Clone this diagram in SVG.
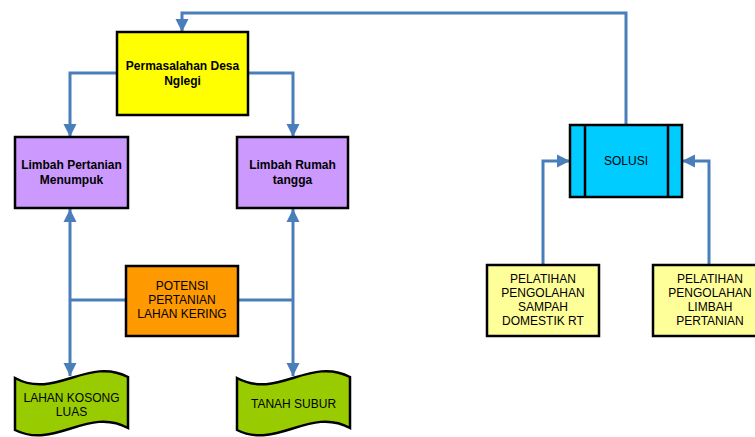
<svg xmlns="http://www.w3.org/2000/svg" width="755" height="437" viewBox="0 0 755 437">
<style>
.box{stroke:#000;stroke-width:2.5}
.c{fill:none;stroke:#4A7EBB;stroke-width:3}
text{font-family:"Liberation Sans",Arial,sans-serif;font-size:12px;fill:#000;text-anchor:middle}
.b{font-weight:bold}
</style>
<defs>
<marker id="ah" viewBox="0 0 10 10" refX="10" refY="5" markerWidth="4.4" markerHeight="4.4" orient="auto-start-reverse">
<path d="M0,0 L10,5 L0,10 Z" fill="#4A7EBB"/>
</marker>
</defs>
<rect width="755" height="437" fill="#fff"/>
<g id="connectors">
<path class="c" d="M626,125 V13 H182 V32" marker-end="url(#ah)"/>
<path class="c" d="M117,73 H70 V137" marker-end="url(#ah)"/>
<path class="c" d="M248,73 H293 V137" marker-end="url(#ah)"/>
<path class="c" d="M70,209 V376" marker-start="url(#ah)" marker-end="url(#ah)"/>
<path class="c" d="M293,209 V376" marker-start="url(#ah)" marker-end="url(#ah)"/>
<path class="c" d="M126,300 H70"/>
<path class="c" d="M238,300 H293"/>
<path class="c" d="M543,265 V161 H570" marker-end="url(#ah)"/>
<path class="c" d="M709,265 V161 H682" marker-end="url(#ah)"/>
</g>
<g id="permasalahan">
<rect class="box" x="117" y="32" width="131" height="83" fill="#FFFF00"/>
<text class="b" x="182.5" y="70">Permasalahan Desa</text>
<text class="b" x="182.5" y="85">Nglegi</text>
</g>
<g id="limbah-pertanian">
<rect class="box" x="15" y="137" width="113" height="71" fill="#CC99FF"/>
<text class="b" x="71.5" y="169">Limbah Pertanian</text>
<text class="b" x="71.5" y="184">Menumpuk</text>
</g>
<g id="limbah-rumah">
<rect class="box" x="237" y="137" width="111" height="71" fill="#CC99FF"/>
<text class="b" x="292.5" y="169">Limbah Rumah</text>
<text class="b" x="292.5" y="184">tangga</text>
</g>
<g id="potensi">
<rect class="box" x="126" y="266" width="112" height="70" fill="#FF9900"/>
<text x="182" y="290">POTENSI</text>
<text x="182" y="304">PERTANIAN</text>
<text x="182" y="318">LAHAN KERING</text>
</g>
<g id="lahan-kosong">
<path class="box" fill="#99CC00" d="M15,378 C55,400 88,356 128,377 L128,428 C88,406 55,450 15,430 Z"/>
<text x="71.5" y="402">LAHAN KOSONG</text>
<text x="71.5" y="416">LUAS</text>
</g>
<g id="tanah-subur">
<path class="box" fill="#99CC00" d="M237,378 C277,400 310,356 350,377 L350,428 C310,406 277,450 237,430 Z"/>
<text x="293.5" y="408">TANAH SUBUR</text>
</g>
<g id="solusi">
<rect class="box" x="570" y="125" width="112" height="72" fill="#00CCFF"/>
<line x1="585" y1="125" x2="585" y2="197" stroke="#000" stroke-width="2.5"/>
<line x1="668" y1="125" x2="668" y2="197" stroke="#000" stroke-width="2.5"/>
<text x="626" y="165">SOLUSI</text>
</g>
<g id="pelatihan-sampah">
<rect class="box" x="487" y="265" width="112" height="71" fill="#FFFF99"/>
<text x="543" y="283">PELATIHAN</text>
<text x="543" y="297">PENGOLAHAN</text>
<text x="543" y="311">SAMPAH</text>
<text x="543" y="325">DOMESTIK RT</text>
</g>
<g id="pelatihan-limbah">
<rect class="box" x="653" y="265" width="113" height="71" fill="#FFFF99"/>
<text x="710" y="283">PELATIHAN</text>
<text x="710" y="297">PENGOLAHAN</text>
<text x="710" y="311">LIMBAH</text>
<text x="710" y="325">PERTANIAN</text>
</g>
</svg>
